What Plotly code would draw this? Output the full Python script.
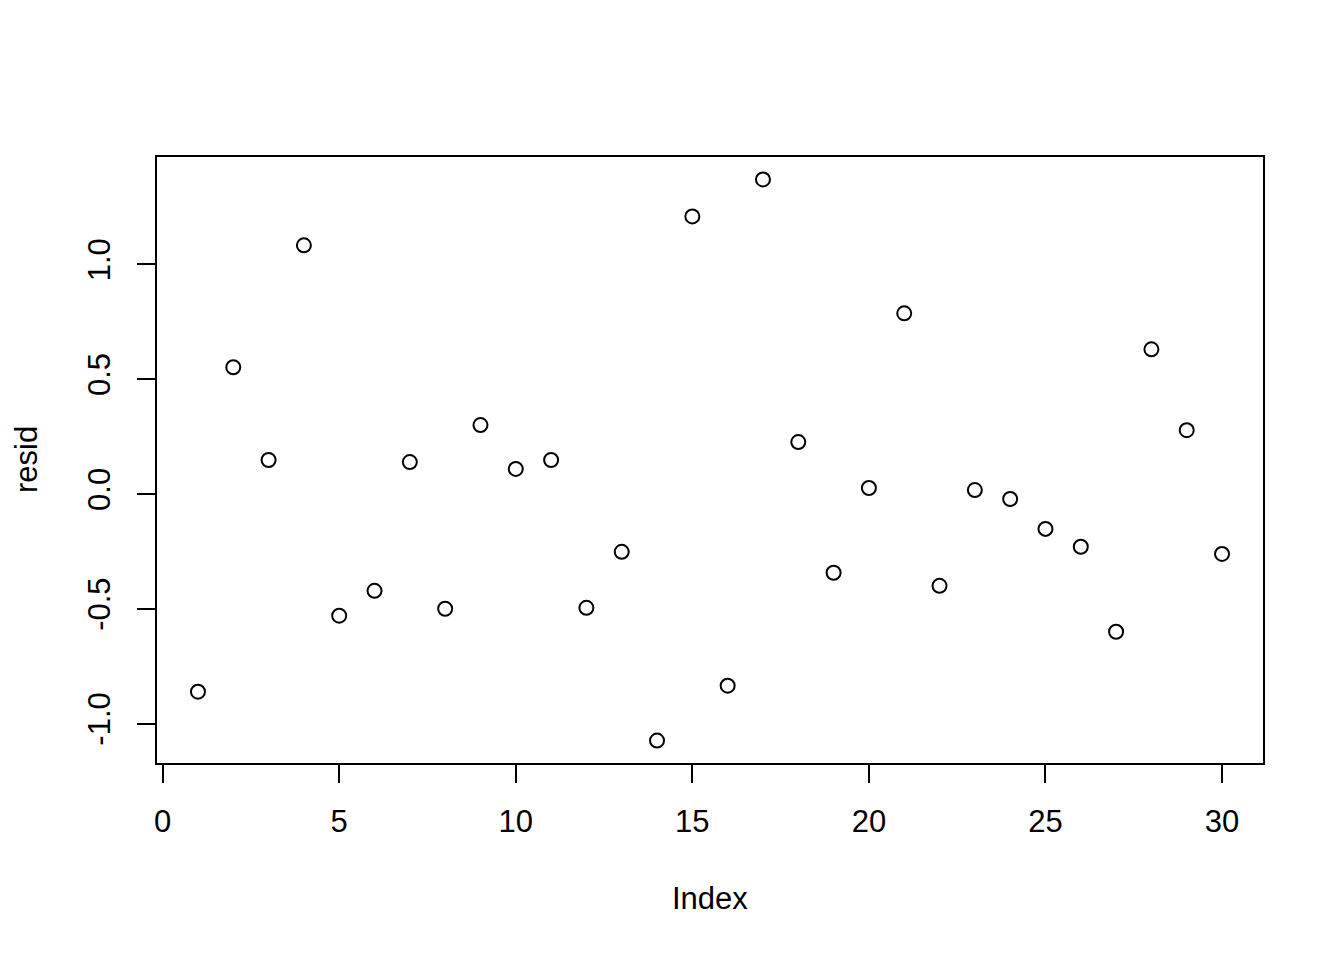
import plotly.graph_objects as go

index = list(range(1, 31))
resid = [-0.861, 0.552, 0.148, 1.083, -0.530, -0.422, 0.139, -0.500, 0.300, 0.109,
         0.148, -0.496, -0.252, -1.074, 1.209, -0.835, 1.370, 0.226, -0.343, 0.026,
         0.787, -0.400, 0.017, -0.022, -0.152, -0.230, -0.600, 0.630, 0.278, -0.261]
x_ticks = [0, 5, 10, 15, 20, 25, 30]
y_ticks = [-1.0, -0.5, 0.0, 0.5, 1.0]
y_tick_labels = ["-1.0", "-0.5", "0.0", "0.5", "1.0"]

def r_range(v):
    lo, hi = min(v), max(v)
    pad = (hi - lo) * 0.04
    return [lo - pad, hi + pad]

FONT = "Liberation Sans, Arial, Helvetica, sans-serif"
FS = 31

fig = go.Figure(go.Scatter(
    x=index, y=resid, mode="markers",
    marker=dict(symbol="circle-open", size=14, color="black", line=dict(width=2, color="black")),
))

axis_common = dict(
    showgrid=False, zeroline=False, showline=True, mirror=True,
    linecolor="black", linewidth=1.5, ticks="outside", ticklen=18, tickwidth=1.5,
    tickcolor="black", tickfont=dict(family=FONT, size=FS, color="black"),
)

fig.update_xaxes(range=r_range(index), tickvals=x_ticks, ticklabelstandoff=12, **axis_common)
fig.update_yaxes(range=r_range(resid), tickvals=y_ticks, ticktext=y_tick_labels,
                 tickangle=-90, ticklabelstandoff=15, **axis_common)

fig.add_annotation(text="Index", x=0.5, y=0, xref="paper", yref="paper",
                   xanchor="center", yanchor="middle", yshift=-135, showarrow=False,
                   font=dict(family=FONT, size=FS, color="black"))
fig.add_annotation(text="resid", x=0, y=0.5, xref="paper", yref="paper",
                   xanchor="center", yanchor="middle", xshift=-131, textangle=-90,
                   borderpad=0, showarrow=False, font=dict(family=FONT, size=FS, color="black"))

# The page body adds an 8px offset; shrink the figure so the plot box lands where it should.
fig.update_layout(
    width=1336, height=952,
    margin=dict(l=149, r=81, t=149, b=197),
    plot_bgcolor="white", paper_bgcolor="white",
    showlegend=False,
)

fig.write_html("out.html")
